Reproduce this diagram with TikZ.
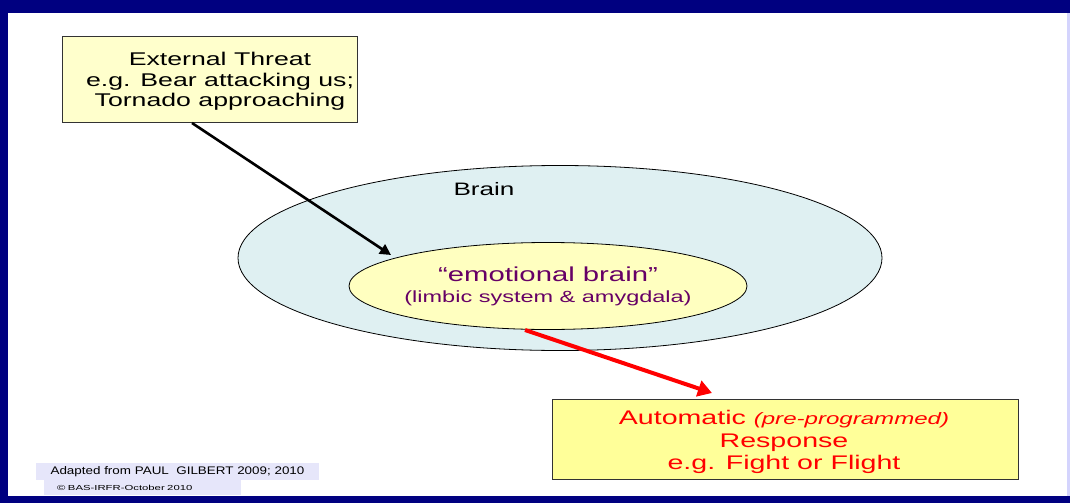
\documentclass[tikz,border=0pt]{standalone}
\usepackage{fontspec}
\setmainfont[FakeStretch=1.45]{Liberation Sans}
\newfontfamily\footA[FakeStretch=1.22]{Liberation Sans}
\newfontfamily\footB[FakeStretch=1.55]{Liberation Sans}
\usetikzlibrary{arrows.meta,shapes.geometric}
\definecolor{navy}{RGB}{0,0,128}
\definecolor{boxyellow}{RGB}{255,255,204}
\definecolor{respyellow}{RGB}{255,255,153}
\definecolor{braincyan}{RGB}{223,240,242}
\definecolor{emoyellow}{RGB}{255,255,192}
\definecolor{emopurple}{RGB}{102,0,102}
\definecolor{lav}{RGB}{230,230,250}
\tikzset{
  textbox/.style={draw=black!80, line width=1pt, inner sep=0pt},
  conn/.style={line width=2.6pt, -{Triangle[length=11pt,width=11pt]}},
}
\begin{document}
\begin{tikzpicture}[x=1pt,y=-1pt]
\useasboundingbox (0,0) rectangle (1070,503);
\fill[white] (0,0) rectangle (1070,503);
% frame
\fill[navy] (0,0) rectangle (1070,13);
\fill[navy] (0,0) rectangle (8,503);
\fill[navy] (0,496) rectangle (1070,503);
\fill[lav!80!blue!60] (1067,13) rectangle (1070,496);
% top box
\node[textbox, fill=boxyellow, minimum width=295pt, minimum height=85pt] (threat) at (209.5,79.5) {};
\node[align=center, font=\fontsize{18.4}{20.5}\selectfont] (threattxt) at (220,81.5) {External Threat\\e.g. Bear attacking us;\\Tornado approaching};
% brain ellipse
\node[draw=black, line width=0.8pt, fill=braincyan, ellipse, minimum width=644pt, minimum height=185pt, inner sep=0pt] (brain) at (560,258) {};
\node[font=\fontsize{18}{20}\selectfont] (brainlbl) at (484,189) {Brain};
% emotional brain
\node[draw=black, line width=0.8pt, fill=emoyellow, ellipse, minimum width=398pt, minimum height=87pt, inner sep=0pt] (emo) at (548,286) {};
\node[text=emopurple, font=\fontsize{20.2}{22}\selectfont] (emot) at (548,274) {“emotional brain”};
\node[text=emopurple, font=\fontsize{16.2}{18}\selectfont] (limb) at (548,298) {(limbic system \& amygdala)};
% response box
\node[textbox, fill=respyellow, minimum width=466pt, minimum height=80pt] (resp) at (785,439) {};
\node[align=center, text=red, font=\fontsize{19.7}{22.5}\selectfont] (resptxt) at (784,442) {Automatic {\fontsize{16.6}{18}\selectfont\itshape (pre-programmed)}\\Response\\e.g. Fight or Flight};
% footnotes
\node[fill=lav, minimum width=283pt, minimum height=17pt, inner sep=0pt, font=\footA\fontsize{11}{12}\selectfont] (adapt) at (177.5,471.5) {Adapted from PAUL\ \ GILBERT 2009; 2010};
\node[fill=lav, text width=197pt, minimum height=14.5pt, inner sep=0pt, font=\footB\fontsize{7.3}{8}\selectfont, anchor=north west] (copy) at (44,480) {\hspace*{13pt}© BAS-IRFR-October 2010};
% arrows
\coordinate (a1s) at (192,123);
\coordinate (a1e) at (391,255);
\coordinate (a2s) at (525,330);
\coordinate (a2e) at (712,393);
\draw[conn, black] (a1s) -- (a1e);
\draw[conn, red, line width=4pt, -{Triangle[length=14pt,width=16pt]}] (a2s) -- (a2e);
\end{tikzpicture}
\end{document}
